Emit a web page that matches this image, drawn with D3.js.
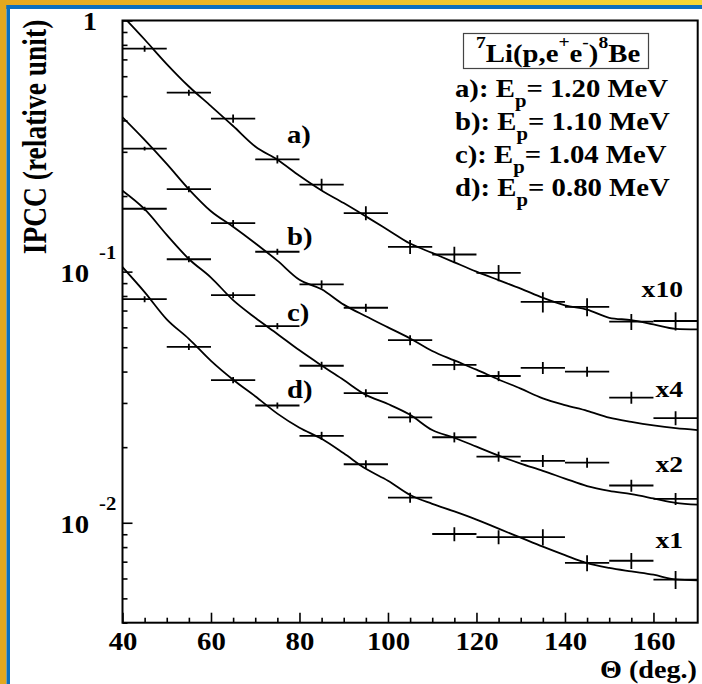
<!DOCTYPE html>
<html>
<head>
<meta charset="utf-8">
<script src="https://cdn.jsdelivr.net/npm/d3@7/dist/d3.min.js"></script>
<style>
  html, body { margin: 0; padding: 0; background: #ffffff; }
  svg { display: block; }
  text { font-family: "Liberation Serif", "Times New Roman", serif; font-weight: bold; fill: #000; }
</style>
</head>
<body>
<svg id="chart" width="702" height="684"></svg>
<script>
// ---------------- data ----------------
const angles = [45, 55, 65, 75, 85, 95, 105, 115, 125, 135, 145, 155, 165];
const halfBin = 5;

const ipccA = [0.772, 0.516, 0.407, 0.280, 0.222, 0.171, 0.1255, 0.117, 0.0989, 0.0758, 0.0724, 0.0632, 0.0636];
const ipccB = [0.309, 0.213, 0.156, 0.120, 0.0890, 0.0718, 0.0534, 0.0425, 0.0384, 0.0414, 0.0400, 0.0315, 0.0261];
const ipccC = [0.178, 0.112, 0.0806, 0.0607, 0.0422, 0.0328, 0.0263, 0.0219, 0.01835, 0.01764, 0.01737, 0.01407, 0.01246];
const ipccD = [0.0777, 0.0502, 0.0370, 0.0293, 0.0222, 0.0171, 0.0126, 0.00902, 0.00877, 0.00877, 0.00692, 0.00706, 0.00594];

// relative errors (percent)
const errA = [2.8, 2.8, 3.7, 3.7, 5.5, 6.4, 6.4, 7.4, 7.4, 9.2, 8.3, 7.4, 8.3];
const errB = [1.8, 2.8, 2.8, 2.8, 3.7, 3.7, 4.6, 4.6, 4.6, 5.5, 4.6, 5.5, 6.4];
const errC = [1.8, 2.8, 2.8, 2.8, 3.7, 3.7, 4.6, 4.6, 4.6, 5.5, 4.6, 5.5, 5.5];
const errD = [2.8, 2.8, 2.8, 2.8, 3.7, 3.7, 4.6, 6.4, 6.4, 7.4, 7.4, 7.4, 8.3];

// simulated curves
const curveAngles = [40, 45, 50, 55, 60, 65, 70, 75, 80, 85, 90, 95, 100, 105, 110, 115, 120, 125, 130, 135, 140, 145, 150, 155, 160, 165, 170];
const fitA = [1.044, 0.840, 0.671, 0.546, 0.456, 0.380, 0.315, 0.279, 0.241, 0.2105, 0.1875, 0.166, 0.1466, 0.1294, 0.1187, 0.1089, 0.1000, 0.0925, 0.0856, 0.0787, 0.0734, 0.0706, 0.0655, 0.0641, 0.0616, 0.0592, 0.0589];
const fitB = [0.4115, 0.3345, 0.2685, 0.2128, 0.1740, 0.1510, 0.1298, 0.1106, 0.0928, 0.0851, 0.0739, 0.0664, 0.0600, 0.0542, 0.0483, 0.0443, 0.0407, 0.0372, 0.0342, 0.0313, 0.0294, 0.0279, 0.0262, 0.0252, 0.0244, 0.0238, 0.0234];
const fitC = [0.2099, 0.1772, 0.1400, 0.1123, 0.0947, 0.0770, 0.0655, 0.0565, 0.0486, 0.0423, 0.0370, 0.0323, 0.0297, 0.0269, 0.0234, 0.0218, 0.0201, 0.0185, 0.0172, 0.0161, 0.0150, 0.0140, 0.0134, 0.0130, 0.0125, 0.0120, 0.0118];
const fitD = [0.1042, 0.0829, 0.0646, 0.0540, 0.0441, 0.0371, 0.0319, 0.0272, 0.0239, 0.0216, 0.0189, 0.0164, 0.0147, 0.0129, 0.0119, 0.0111, 0.0103, 0.00947, 0.00872, 0.00803, 0.00743, 0.00691, 0.00661, 0.00640, 0.00621, 0.00595, 0.00590];

const seriesLabels = ["a)", "b)", "c)", "d)"];
const scaleLabels = ["x10", "x4", "x2", "x1"];
const energies = ["1.20", "1.10", "1.04", "0.80"];
const xTickMajor = [40, 60, 80, 100, 120, 140, 160];
const yTickMajor = [1, 0.1, 0.01];
const yExponents = ["", "-1", "-2"];
const xTitle = "\u0398 (deg.)";
const yTitle = "IPCC (relative unit)";

// ---------------- layout ----------------
const svg = d3.select("#chart");
const W = 702, H = 684;
const plot = { left: 122.5, top: 20.5, right: 697.7, bottom: 622.7 };
const SX = 1.15; // horizontal stretch of glyphs

// frame decoration
const defs = svg.append("defs");
const grad = defs.append("linearGradient").attr("id", "topband").attr("x1", "0%").attr("x2", "100%");
grad.append("stop").attr("offset", "0%").attr("stop-color", "#e6a81f");
grad.append("stop").attr("offset", "100%").attr("stop-color", "#f7d836");
svg.append("rect").attr("x", 0).attr("y", 0).attr("width", W).attr("height", H).attr("fill", "#ffffff");
svg.append("rect").attr("x", 0).attr("y", 0).attr("width", W).attr("height", 5).attr("fill", "url(#topband)");
svg.append("rect").attr("x", 0).attr("y", 5).attr("width", W).attr("height", 4).attr("fill", "#0b6fbf");
svg.append("rect").attr("x", 0).attr("y", 0).attr("width", 6.5).attr("height", H).attr("fill", "#e3a820");
svg.append("rect").attr("x", 6.5).attr("y", 5).attr("width", 3.5).attr("height", H - 5).attr("fill", "#0b6fbf");

const x = d3.scaleLinear().domain([40, 170]).range([plot.left, plot.right]);
const y = d3.scaleLog().domain([0.004, 1]).range([plot.bottom, plot.top]);

defs.append("clipPath").attr("id", "plotclip").append("rect")
  .attr("x", plot.left).attr("y", plot.top)
  .attr("width", plot.right - plot.left).attr("height", plot.bottom - plot.top);

// ---------------- axes ----------------
const xMinor = d3.range(45, 170, 5).filter(v => !xTickMajor.includes(v));
const gx = svg.append("g").attr("transform", `translate(0,${plot.bottom})`);
gx.append("g").call(d3.axisBottom(x).tickValues(xTickMajor).tickSize(-10).tickPadding(16).tickFormat(d3.format("d")));
gx.append("g").call(d3.axisBottom(x).tickValues(xMinor).tickSize(-5).tickFormat(""));
gx.selectAll(".domain").remove();
gx.selectAll("line").attr("stroke", "#000").attr("stroke-width", 1.6);
gx.selectAll("text")
  .attr("font-size", 25).attr("font-family", "Liberation Serif, serif").attr("font-weight", "bold")
  .attr("dy", 0).attr("y", 27.5).attr("transform", `scale(${SX},1)`).attr("fill", "#000");

const yMinor = [];
[0.001, 0.01, 0.1].forEach(dec => { for (let k = 2; k <= 9; k++) { const v = dec * k; if (v >= 0.004 && v < 1) yMinor.push(v); } });
const gy = svg.append("g").attr("transform", `translate(${plot.left},0)`);
gy.append("g").call(d3.axisLeft(y).tickValues(yTickMajor).tickSize(-10).tickFormat(""));
gy.append("g").call(d3.axisLeft(y).tickValues(yMinor).tickSize(-5).tickFormat(""));
gy.selectAll(".domain").remove();
gy.selectAll("line").attr("stroke", "#000").attr("stroke-width", 1.6);

// y tick labels (10^n)
yTickMajor.forEach((v, i) => {
  const yy = y(v);
  if (yExponents[i] === "") {
    svg.append("g").attr("transform", `translate(97,${yy + 9.5}) scale(${SX},1)`)
      .append("text").attr("text-anchor", "end").attr("font-size", 25).text("1");
  } else {
    svg.append("g").attr("transform", `translate(89,${yy + 10.3}) scale(${SX},1)`)
      .append("text").attr("text-anchor", "end").attr("font-size", 25).text("10");
    svg.append("g").attr("transform", `translate(99,${yy - 13}) scale(${SX},1)`)
      .append("text").attr("text-anchor", "start").attr("font-size", 18).text(yExponents[i]);
  }
});

// axis titles
svg.append("g").attr("transform", `translate(697,678) scale(${SX},1)`)
  .append("text").attr("text-anchor", "end").attr("font-size", 24.5).text(xTitle);
svg.append("g").attr("transform", `translate(46,137) scale(1.2,1) rotate(-90)`)
  .append("text").attr("text-anchor", "middle").attr("font-size", 27.5).text(yTitle);

// ---------------- curves & data ----------------
const series = [
  { pts: ipccA, err: errA, fit: fitA },
  { pts: ipccB, err: errB, fit: fitB },
  { pts: ipccC, err: errC, fit: fitC },
  { pts: ipccD, err: errD, fit: fitD }
];

const plotG = svg.append("g").attr("clip-path", "url(#plotclip)");
const line = d3.line().x(d => x(d[0])).y(d => y(d[1])).curve(d3.curveMonotoneX);

series.forEach(s => {
  plotG.append("path")
    .datum(curveAngles.map((a, i) => [a, s.fit[i]]))
    .attr("d", line).attr("fill", "none").attr("stroke", "#000").attr("stroke-width", 1.8);

  const pts = angles.map((a, i) => ({ a, v: s.pts[i], e: s.err[i] / 100 }));
  plotG.selectAll(null).data(pts).enter().append("line")
    .attr("x1", d => x(d.a - halfBin)).attr("x2", d => x(d.a + halfBin))
    .attr("y1", d => y(d.v)).attr("y2", d => y(d.v))
    .attr("stroke", "#000").attr("stroke-width", 1.8);
  plotG.selectAll(null).data(pts).enter().append("line")
    .attr("x1", d => x(d.a)).attr("x2", d => x(d.a))
    .attr("y1", d => y(d.v * (1 - d.e))).attr("y2", d => y(d.v * (1 + d.e)))
    .attr("stroke", "#000").attr("stroke-width", 1.8);
});

// frame
svg.append("rect")
  .attr("x", plot.left).attr("y", plot.top)
  .attr("width", plot.right - plot.left).attr("height", plot.bottom - plot.top)
  .attr("fill", "none").attr("stroke", "#000").attr("stroke-width", 2);

// ---------------- annotations ----------------
const seriesLabelPos = [[287, 143], [287, 245], [287, 321], [287, 398]];
seriesLabels.forEach((t, i) => {
  svg.append("g").attr("transform", `translate(${seriesLabelPos[i][0]},${seriesLabelPos[i][1]}) scale(${SX},1)`)
    .append("text").attr("font-size", 25).text(t);
});
const scaleLabelPos = [[683, 297], [683, 397], [683, 472], [683, 548]];
scaleLabels.forEach((t, i) => {
  svg.append("g").attr("transform", `translate(${scaleLabelPos[i][0]},${scaleLabelPos[i][1]}) scale(${SX},1)`)
    .append("text").attr("text-anchor", "end").attr("font-size", 24).text(t);
});

// legend box
svg.append("rect").attr("x", 463.5).attr("y", 33.5).attr("width", 185).attr("height", 35)
  .attr("fill", "#fff").attr("stroke", "#444").attr("stroke-width", 1.2);
const title = svg.append("g").attr("transform", `translate(476,61.5) scale(${SX},1)`).append("text").attr("font-size", 25);
title.append("tspan").attr("font-size", 17).attr("dy", -14).text("7");
title.append("tspan").attr("dy", 14).text("Li(p,e");
title.append("tspan").attr("font-size", 17).attr("dy", -14).text("+");
title.append("tspan").attr("dy", 14).text("e");
title.append("tspan").attr("font-size", 17).attr("dy", -14).text("-");
title.append("tspan").attr("dy", 14).text(")");
title.append("tspan").attr("font-size", 17).attr("dy", -14).text("8");
title.append("tspan").attr("dy", 14).text("Be");

const rowBase = [96.5, 129.5, 162.5, 195.5];
energies.forEach((e, i) => {
  const t = svg.append("g").attr("transform", `translate(455,${rowBase[i]}) scale(${SX},1)`).append("text").attr("font-size", 25);
  t.append("tspan").text(seriesLabels[i] + ": E");
  t.append("tspan").attr("font-size", 18).attr("dy", 10).text("p");
  t.append("tspan").attr("dy", -10).text("= " + e + " MeV");
});
</script>
</body>
</html>
